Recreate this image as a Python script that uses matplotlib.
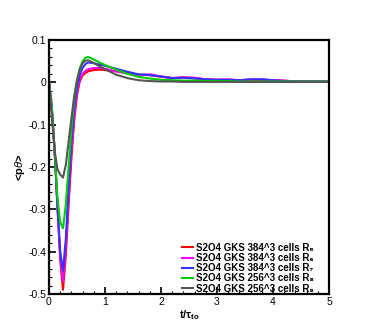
import numpy as np
import matplotlib
matplotlib.use("Agg")
import matplotlib.pyplot as plt
from matplotlib.ticker import MultipleLocator

plt.rcParams['font.family'] = ['Liberation Sans', 'DejaVu Sans']
plt.rcParams['mathtext.fontset'] = 'custom'
plt.rcParams['mathtext.rm'] = 'Liberation Sans'
plt.rcParams['mathtext.it'] = 'Liberation Sans:italic'
plt.rcParams['mathtext.bf'] = 'Liberation Sans:bold'

t = [0, 0.05, 0.1, 0.15, 0.2, 0.25, 0.3, 0.35, 0.4, 0.45, 0.5, 0.55, 0.6, 0.65,
     0.7, 0.8, 0.9, 1.0, 1.2, 1.4, 1.6, 1.8, 2.0, 2.2, 2.4, 2.6, 2.8, 3.0, 3.2,
     3.4, 3.6, 3.8, 4.0, 4.2, 4.4, 4.6, 4.8, 5.0]

r5 = [0, -0.06, -0.16, -0.29, -0.42, -0.49, -0.41, -0.29, -0.18, -0.09, -0.03,
      0.003, 0.016, 0.022, 0.026, 0.029, 0.030, 0.029, 0.026, 0.022, 0.018,
      0.017, 0.013, 0.010, 0.011, 0.010, 0.007, 0.006, 0.006, 0.005, 0.006,
      0.006, 0.005, 0.004, 0.002, 0.002, 0.002, 0.002]
r6 = [0, -0.06, -0.16, -0.29, -0.41, -0.47, -0.39, -0.27, -0.16, -0.08, -0.022,
      0.008, 0.020, 0.027, 0.031, 0.034, 0.034, 0.032, 0.026, 0.021, 0.017,
      0.019, 0.014, 0.010, 0.012, 0.011, 0.007, 0.006, 0.007, 0.005, 0.007,
      0.007, 0.005, 0.004, 0.002, 0.002, 0.002, 0.002]
r7 = [0, -0.06, -0.16, -0.29, -0.40, -0.445, -0.37, -0.25, -0.14, -0.06, -0.01,
      0.018, 0.034, 0.043, 0.047, 0.045, 0.042, 0.039, 0.032, 0.025, 0.019,
      0.017, 0.014, 0.010, 0.011, 0.009, 0.007, 0.006, 0.006, 0.005, 0.007,
      0.007, 0.005, 0.003, 0.002, 0.002, 0.002, 0.002]
r8 = [0, -0.06, -0.16, -0.27, -0.33, -0.345, -0.29, -0.20, -0.11, -0.04, 0.005,
      0.033, 0.050, 0.058, 0.060, 0.054, 0.047, 0.041, 0.030, 0.020, 0.013,
      0.009, 0.006, 0.005, 0.004, 0.004, 0.003, 0.003, 0.003, 0.002, 0.002,
      0.002, 0.002, 0.002, 0.002, 0.002, 0.002, 0.002]
r9 = [0, -0.08, -0.16, -0.205, -0.218, -0.225, -0.195, -0.14, -0.085, -0.033,
      0.005, 0.030, 0.045, 0.051, 0.052, 0.046, 0.038, 0.031, 0.018, 0.010,
      0.005, 0.003, 0.002, 0.002, 0.001, 0.001, 0.001, 0.001, 0.001, 0.001,
      0.001, 0.001, 0.001, 0.001, 0.001, 0.001, 0.001, 0.001]

labels = ['S2O4 GKS 384^3 cells R\u2085', 'S2O4 GKS 384^3 cells R\u2086',
          'S2O4 GKS 384^3 cells R\u2087', 'S2O4 GKS 256^3 cells R\u2088',
          'S2O4 GKS 256^3 cells R\u2089']
colors = ['#ff0000', '#ff00ff', '#3333ff', '#00cc00', '#555555']

xticks = [0, 1, 2, 3, 4, 5]
xticklabels = ['0', '1', '2', '3', '4', '5']
yticks = [0.1, 0, -0.1, -0.2, -0.3, -0.4, -0.5]
yticklabels = ['0.1', '0', '-0.1', '-0.2', '-0.3', '-0.4', '-0.5']

fig = plt.figure(figsize=(3.74, 3.32), dpi=100)
ax = fig.add_axes([49/374, 1-294/332, 280/374, 254/332])

for ys, c, lab in zip([r5, r6, r7, r8, r9], colors, labels):
    ax.plot(t, ys, color=c, lw=1.5, label=lab)

ax.set_xlim(0, 5)
ax.set_ylim(-0.5, 0.1)
ax.set_xticks(xticks)
ax.set_xticklabels(xticklabels)
ax.set_yticks(yticks)
ax.set_yticklabels(yticklabels)
ax.xaxis.set_minor_locator(MultipleLocator(0.2))
ax.yaxis.set_minor_locator(MultipleLocator(0.02))
ax.tick_params(which='major', direction='in', length=5, width=1.2, labelsize=7.5, pad=2)
ax.tick_params(which='minor', direction='in', length=2.5, width=0.8)
for s in ax.spines.values():
    s.set_linewidth(1.6)

ax.set_xlabel(r'$\mathbf{t/\tau_{to}}$', fontsize=8, labelpad=1)
ax.set_ylabel(r'<p$\theta$>', fontsize=8, fontweight='bold', labelpad=1)

leg = ax.legend(loc='upper left', bbox_to_anchor=(177/374, 1-238/332),
                bbox_transform=fig.transFigure, frameon=False,
                handlelength=1.1, handletextpad=0.4, labelspacing=0.02,
                borderpad=0, prop={'size': 7, 'weight': 'bold'})

fig.savefig('out.png', dpi=100)
